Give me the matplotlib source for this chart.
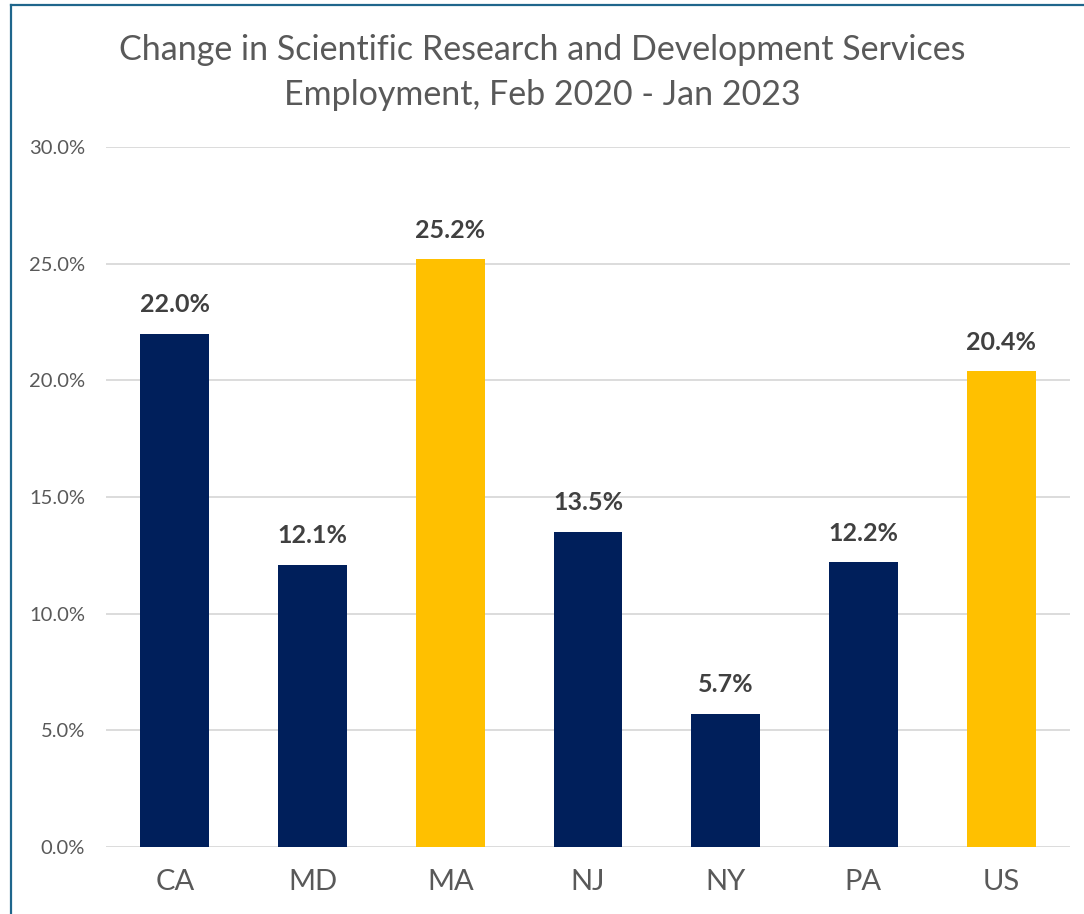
import matplotlib
matplotlib.use("Agg")
import matplotlib.pyplot as plt
from matplotlib.lines import Line2D
from matplotlib.ticker import FuncFormatter

categories = ["CA", "MD", "MA", "NJ", "NY", "PA", "US"]
values = [22.0, 12.1, 25.2, 13.5, 5.7, 12.2, 20.4]
highlight = ["MA", "US"]

NAVY = "#001F5B"
GOLD = "#FFC000"

plt.rcParams['font.family'] = ['Lato', 'DejaVu Sans']

W, H = 1084, 914
fig = plt.figure(figsize=(W/100, H/100), dpi=100)
ax = fig.add_axes([106/W, 1-847/H, (1070-106)/W, (847-147)/H])

colors = [GOLD if c in highlight else NAVY for c in categories]
x = list(range(len(categories)))
bars = ax.bar(x, values, width=0.5, color=colors, zorder=3)

for xi, v in zip(x, values):
    ax.text(xi, v + 0.75, f"{v:.1f}%", ha="center", va="bottom",
            fontsize=18, fontweight="bold", color="#404040")

ax.set_xlim(-0.5, len(categories) - 0.5)
ax.set_ylim(0, 30)
ax.set_yticks([0, 5, 10, 15, 20, 25, 30])
ax.yaxis.set_major_formatter(FuncFormatter(lambda v, p: f"{v:.1f}%"))
ax.set_xticks(x)
ax.set_xticklabels(categories)
ax.tick_params(axis="y", length=0, labelsize=14.5, labelcolor="#595959", pad=15)
ax.tick_params(axis="x", length=0, labelsize=21, labelcolor="#595959", pad=16)
ax.grid(axis="y", color="#D9D9D9", linewidth=1.3, zorder=0)
for s in ax.spines.values():
    s.set_visible(False)

fig.text(0.5, 1-50/H, "Change in Scientific Research and Development Services",
         ha="center", va="center", fontsize=24.5, color="#595959")
fig.text(0.5, 1-95/H, "Employment, Feb 2020 - Jan 2023",
         ha="center", va="center", fontsize=24.5, color="#595959")

bc = "#1F668C"
fig.add_artist(Line2D([11/W, 11/W], [0, 1-5/H], transform=fig.transFigure, color=bc, lw=1.6))
fig.add_artist(Line2D([11/W, 1], [1-5/H, 1-5/H], transform=fig.transFigure, color=bc, lw=1.6))

fig.savefig("out.png", dpi=100, facecolor="white")
